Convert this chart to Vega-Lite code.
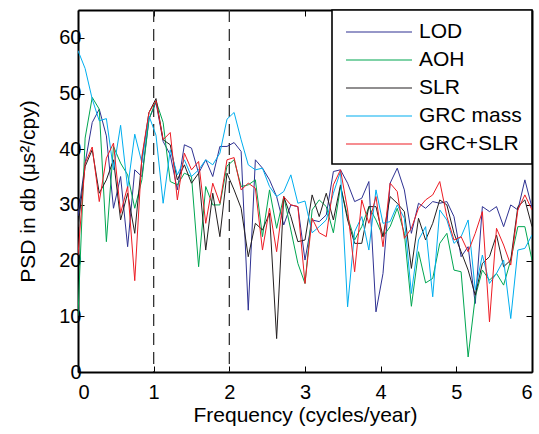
{
  "$schema": "https://vega.github.io/schema/vega-lite/v6.json",
  "width": 454,
  "height": 362,
  "autosize": "none",
  "padding": {"left": 78, "top": 10, "right": 7, "bottom": 62},
  "config": {
    "font": "Liberation Sans",
    "view": {"stroke": null},
    "legend": {"strokeWidth": 1.6},
    "axis": {
      "grid": false,
      "domainColor": "#000000",
      "domainWidth": 2,
      "tickColor": "#000000",
      "tickWidth": 1,
      "tickSize": -6,
      "labelColor": "#000000",
      "labelFontSize": 20,
      "titleColor": "#000000",
      "titleFontSize": 21,
      "titleFontWeight": "normal"
    }
  },
  "datasets": {
    "psd": [
      {"f":0,"v":28,"s":"LOD"},{"f":0.094,"v":37.5,"s":"LOD"},{"f":0.188,"v":44.8,"s":"LOD"},{"f":0.281,"v":47.2,"s":"LOD"},{"f":0.375,"v":42.4,"s":"LOD"},{"f":0.469,"v":29.4,"s":"LOD"},{"f":0.563,"v":35.1,"s":"LOD"},{"f":0.656,"v":22.5,"s":"LOD"},{"f":0.75,"v":36.3,"s":"LOD"},{"f":0.844,"v":35.1,"s":"LOD"},{"f":0.938,"v":45.4,"s":"LOD"},{"f":1.031,"v":48.4,"s":"LOD"},{"f":1.125,"v":41.4,"s":"LOD"},{"f":1.219,"v":39,"s":"LOD"},{"f":1.313,"v":32.7,"s":"LOD"},{"f":1.406,"v":40.8,"s":"LOD"},{"f":1.5,"v":40.2,"s":"LOD"},{"f":1.594,"v":35.7,"s":"LOD"},{"f":1.688,"v":38.1,"s":"LOD"},{"f":1.781,"v":35.1,"s":"LOD"},{"f":1.875,"v":40.5,"s":"LOD"},{"f":1.969,"v":40.5,"s":"LOD"},{"f":2.063,"v":41.2,"s":"LOD"},{"f":2.156,"v":39.6,"s":"LOD"},{"f":2.25,"v":11.1,"s":"LOD"},{"f":2.344,"v":38.1,"s":"LOD"},{"f":2.438,"v":36.6,"s":"LOD"},{"f":2.531,"v":34.5,"s":"LOD"},{"f":2.625,"v":31.5,"s":"LOD"},{"f":2.719,"v":26.4,"s":"LOD"},{"f":2.813,"v":30,"s":"LOD"},{"f":2.906,"v":29.7,"s":"LOD"},{"f":3,"v":20.1,"s":"LOD"},{"f":3.094,"v":27.3,"s":"LOD"},{"f":3.188,"v":27,"s":"LOD"},{"f":3.281,"v":28.2,"s":"LOD"},{"f":3.375,"v":36,"s":"LOD"},{"f":3.469,"v":36.3,"s":"LOD"},{"f":3.563,"v":33.9,"s":"LOD"},{"f":3.656,"v":30.6,"s":"LOD"},{"f":3.75,"v":31.2,"s":"LOD"},{"f":3.844,"v":34.2,"s":"LOD"},{"f":3.938,"v":10.8,"s":"LOD"},{"f":4.031,"v":17.7,"s":"LOD"},{"f":4.125,"v":33.9,"s":"LOD"},{"f":4.219,"v":36.6,"s":"LOD"},{"f":4.313,"v":32.7,"s":"LOD"},{"f":4.406,"v":24.9,"s":"LOD"},{"f":4.5,"v":30.3,"s":"LOD"},{"f":4.594,"v":29.4,"s":"LOD"},{"f":4.688,"v":30.6,"s":"LOD"},{"f":4.781,"v":30.3,"s":"LOD"},{"f":4.875,"v":30.6,"s":"LOD"},{"f":4.969,"v":27.9,"s":"LOD"},{"f":5.063,"v":20.7,"s":"LOD"},{"f":5.156,"v":22.5,"s":"LOD"},{"f":5.25,"v":12.3,"s":"LOD"},{"f":5.344,"v":29.7,"s":"LOD"},{"f":5.438,"v":28.8,"s":"LOD"},{"f":5.531,"v":29.7,"s":"LOD"},{"f":5.625,"v":26.1,"s":"LOD"},{"f":5.719,"v":30,"s":"LOD"},{"f":5.813,"v":29.1,"s":"LOD"},{"f":5.906,"v":34.5,"s":"LOD"},{"f":6,"v":29.5,"s":"LOD"},
      {"f":0,"v":10.1,"s":"AOH"},{"f":0.094,"v":42,"s":"AOH"},{"f":0.188,"v":49.3,"s":"AOH"},{"f":0.281,"v":47.2,"s":"AOH"},{"f":0.375,"v":23.4,"s":"AOH"},{"f":0.469,"v":40.5,"s":"AOH"},{"f":0.563,"v":37.5,"s":"AOH"},{"f":0.656,"v":35.4,"s":"AOH"},{"f":0.75,"v":29.4,"s":"AOH"},{"f":0.844,"v":34.5,"s":"AOH"},{"f":0.938,"v":45.4,"s":"AOH"},{"f":1.031,"v":48.7,"s":"AOH"},{"f":1.125,"v":44.8,"s":"AOH"},{"f":1.219,"v":34.2,"s":"AOH"},{"f":1.313,"v":33.6,"s":"AOH"},{"f":1.406,"v":35.7,"s":"AOH"},{"f":1.5,"v":35.1,"s":"AOH"},{"f":1.594,"v":18.9,"s":"AOH"},{"f":1.688,"v":33.3,"s":"AOH"},{"f":1.781,"v":30,"s":"AOH"},{"f":1.875,"v":30,"s":"AOH"},{"f":1.969,"v":37,"s":"AOH"},{"f":2.063,"v":38.1,"s":"AOH"},{"f":2.156,"v":33.3,"s":"AOH"},{"f":2.25,"v":33.6,"s":"AOH"},{"f":2.344,"v":34.5,"s":"AOH"},{"f":2.438,"v":24.3,"s":"AOH"},{"f":2.531,"v":32.7,"s":"AOH"},{"f":2.625,"v":25.8,"s":"AOH"},{"f":2.719,"v":31.5,"s":"AOH"},{"f":2.813,"v":25.5,"s":"AOH"},{"f":2.906,"v":19.5,"s":"AOH"},{"f":3,"v":15.9,"s":"AOH"},{"f":3.094,"v":29.1,"s":"AOH"},{"f":3.188,"v":30.9,"s":"AOH"},{"f":3.281,"v":29.7,"s":"AOH"},{"f":3.375,"v":25,"s":"AOH"},{"f":3.469,"v":33.3,"s":"AOH"},{"f":3.563,"v":27.9,"s":"AOH"},{"f":3.656,"v":23.7,"s":"AOH"},{"f":3.75,"v":26.1,"s":"AOH"},{"f":3.844,"v":29.7,"s":"AOH"},{"f":3.938,"v":27.3,"s":"AOH"},{"f":4.031,"v":24.3,"s":"AOH"},{"f":4.125,"v":26.1,"s":"AOH"},{"f":4.219,"v":29.4,"s":"AOH"},{"f":4.313,"v":24.9,"s":"AOH"},{"f":4.406,"v":11.8,"s":"AOH"},{"f":4.5,"v":21.6,"s":"AOH"},{"f":4.594,"v":16,"s":"AOH"},{"f":4.688,"v":16.8,"s":"AOH"},{"f":4.781,"v":23.1,"s":"AOH"},{"f":4.875,"v":24.9,"s":"AOH"},{"f":4.969,"v":18.3,"s":"AOH"},{"f":5.063,"v":18,"s":"AOH"},{"f":5.156,"v":2.7,"s":"AOH"},{"f":5.25,"v":13.5,"s":"AOH"},{"f":5.344,"v":18.3,"s":"AOH"},{"f":5.438,"v":16.5,"s":"AOH"},{"f":5.531,"v":17.7,"s":"AOH"},{"f":5.625,"v":15.6,"s":"AOH"},{"f":5.719,"v":20.1,"s":"AOH"},{"f":5.813,"v":26.1,"s":"AOH"},{"f":5.906,"v":26.1,"s":"AOH"},{"f":6,"v":20.1,"s":"AOH"},
      {"f":0,"v":26,"s":"SLR"},{"f":0.094,"v":36.9,"s":"SLR"},{"f":0.188,"v":39.9,"s":"SLR"},{"f":0.281,"v":32.1,"s":"SLR"},{"f":0.375,"v":34.5,"s":"SLR"},{"f":0.469,"v":38.1,"s":"SLR"},{"f":0.563,"v":27.3,"s":"SLR"},{"f":0.656,"v":32.1,"s":"SLR"},{"f":0.75,"v":24.9,"s":"SLR"},{"f":0.844,"v":38.1,"s":"SLR"},{"f":0.938,"v":46.6,"s":"SLR"},{"f":1.031,"v":49.1,"s":"SLR"},{"f":1.125,"v":41.7,"s":"SLR"},{"f":1.219,"v":40.8,"s":"SLR"},{"f":1.313,"v":34.5,"s":"SLR"},{"f":1.406,"v":37.2,"s":"SLR"},{"f":1.5,"v":33.9,"s":"SLR"},{"f":1.594,"v":35.7,"s":"SLR"},{"f":1.688,"v":21.9,"s":"SLR"},{"f":1.781,"v":32.1,"s":"SLR"},{"f":1.875,"v":24.3,"s":"SLR"},{"f":1.969,"v":35.7,"s":"SLR"},{"f":2.063,"v":32.7,"s":"SLR"},{"f":2.156,"v":29.4,"s":"SLR"},{"f":2.25,"v":20.7,"s":"SLR"},{"f":2.344,"v":26.7,"s":"SLR"},{"f":2.438,"v":25.5,"s":"SLR"},{"f":2.531,"v":28.5,"s":"SLR"},{"f":2.625,"v":6,"s":"SLR"},{"f":2.719,"v":31.5,"s":"SLR"},{"f":2.813,"v":27.9,"s":"SLR"},{"f":2.906,"v":23.4,"s":"SLR"},{"f":3,"v":23.7,"s":"SLR"},{"f":3.094,"v":31.8,"s":"SLR"},{"f":3.188,"v":27.9,"s":"SLR"},{"f":3.281,"v":32.1,"s":"SLR"},{"f":3.375,"v":27.3,"s":"SLR"},{"f":3.469,"v":33.6,"s":"SLR"},{"f":3.563,"v":27.3,"s":"SLR"},{"f":3.656,"v":23.1,"s":"SLR"},{"f":3.75,"v":23.1,"s":"SLR"},{"f":3.844,"v":29.7,"s":"SLR"},{"f":3.938,"v":29.7,"s":"SLR"},{"f":4.031,"v":24.3,"s":"SLR"},{"f":4.125,"v":31.5,"s":"SLR"},{"f":4.219,"v":30.3,"s":"SLR"},{"f":4.313,"v":28.8,"s":"SLR"},{"f":4.406,"v":18.6,"s":"SLR"},{"f":4.5,"v":27.6,"s":"SLR"},{"f":4.594,"v":23.7,"s":"SLR"},{"f":4.688,"v":26.7,"s":"SLR"},{"f":4.781,"v":30.9,"s":"SLR"},{"f":4.875,"v":30,"s":"SLR"},{"f":4.969,"v":24.9,"s":"SLR"},{"f":5.063,"v":21.6,"s":"SLR"},{"f":5.156,"v":18.3,"s":"SLR"},{"f":5.25,"v":13.8,"s":"SLR"},{"f":5.344,"v":19.5,"s":"SLR"},{"f":5.438,"v":20.7,"s":"SLR"},{"f":5.531,"v":24.6,"s":"SLR"},{"f":5.625,"v":18.9,"s":"SLR"},{"f":5.719,"v":20.1,"s":"SLR"},{"f":5.813,"v":29.7,"s":"SLR"},{"f":5.906,"v":30.9,"s":"SLR"},{"f":6,"v":26.1,"s":"SLR"},
      {"f":0,"v":57.7,"s":"GRC mass"},{"f":0.094,"v":54.5,"s":"GRC mass"},{"f":0.188,"v":49,"s":"GRC mass"},{"f":0.281,"v":45.1,"s":"GRC mass"},{"f":0.375,"v":45.5,"s":"GRC mass"},{"f":0.469,"v":36.3,"s":"GRC mass"},{"f":0.563,"v":44.3,"s":"GRC mass"},{"f":0.656,"v":33,"s":"GRC mass"},{"f":0.75,"v":42.7,"s":"GRC mass"},{"f":0.844,"v":37.6,"s":"GRC mass"},{"f":0.938,"v":46,"s":"GRC mass"},{"f":1.031,"v":42.5,"s":"GRC mass"},{"f":1.125,"v":30.3,"s":"GRC mass"},{"f":1.219,"v":39.9,"s":"GRC mass"},{"f":1.313,"v":35.4,"s":"GRC mass"},{"f":1.406,"v":38.1,"s":"GRC mass"},{"f":1.5,"v":35.1,"s":"GRC mass"},{"f":1.594,"v":36.3,"s":"GRC mass"},{"f":1.688,"v":38.1,"s":"GRC mass"},{"f":1.781,"v":37.2,"s":"GRC mass"},{"f":1.875,"v":39.3,"s":"GRC mass"},{"f":1.969,"v":45.4,"s":"GRC mass"},{"f":2.063,"v":46.6,"s":"GRC mass"},{"f":2.156,"v":41.7,"s":"GRC mass"},{"f":2.25,"v":37.2,"s":"GRC mass"},{"f":2.344,"v":36.3,"s":"GRC mass"},{"f":2.438,"v":36.6,"s":"GRC mass"},{"f":2.531,"v":33.3,"s":"GRC mass"},{"f":2.625,"v":31.5,"s":"GRC mass"},{"f":2.719,"v":32.4,"s":"GRC mass"},{"f":2.813,"v":35.4,"s":"GRC mass"},{"f":2.906,"v":30.3,"s":"GRC mass"},{"f":3,"v":30.7,"s":"GRC mass"},{"f":3.094,"v":25,"s":"GRC mass"},{"f":3.188,"v":26.1,"s":"GRC mass"},{"f":3.281,"v":27.3,"s":"GRC mass"},{"f":3.375,"v":32.1,"s":"GRC mass"},{"f":3.469,"v":36,"s":"GRC mass"},{"f":3.563,"v":11.7,"s":"GRC mass"},{"f":3.656,"v":25.2,"s":"GRC mass"},{"f":3.75,"v":27.9,"s":"GRC mass"},{"f":3.844,"v":21.9,"s":"GRC mass"},{"f":3.938,"v":32.7,"s":"GRC mass"},{"f":4.031,"v":26.7,"s":"GRC mass"},{"f":4.125,"v":27,"s":"GRC mass"},{"f":4.219,"v":30,"s":"GRC mass"},{"f":4.313,"v":27.6,"s":"GRC mass"},{"f":4.406,"v":14.1,"s":"GRC mass"},{"f":4.5,"v":23.7,"s":"GRC mass"},{"f":4.594,"v":26.1,"s":"GRC mass"},{"f":4.688,"v":13.5,"s":"GRC mass"},{"f":4.781,"v":29.1,"s":"GRC mass"},{"f":4.875,"v":27.3,"s":"GRC mass"},{"f":4.969,"v":23.1,"s":"GRC mass"},{"f":5.063,"v":24.3,"s":"GRC mass"},{"f":5.156,"v":27.3,"s":"GRC mass"},{"f":5.25,"v":14.7,"s":"GRC mass"},{"f":5.344,"v":21,"s":"GRC mass"},{"f":5.438,"v":15.9,"s":"GRC mass"},{"f":5.531,"v":17.7,"s":"GRC mass"},{"f":5.625,"v":20.1,"s":"GRC mass"},{"f":5.719,"v":9.6,"s":"GRC mass"},{"f":5.813,"v":21.9,"s":"GRC mass"},{"f":5.906,"v":22.2,"s":"GRC mass"},{"f":6,"v":24.6,"s":"GRC mass"},
      {"f":0,"v":21,"s":"GRC+SLR"},{"f":0.094,"v":37.5,"s":"GRC+SLR"},{"f":0.188,"v":40.4,"s":"GRC+SLR"},{"f":0.281,"v":30.6,"s":"GRC+SLR"},{"f":0.375,"v":38.4,"s":"GRC+SLR"},{"f":0.469,"v":41.1,"s":"GRC+SLR"},{"f":0.563,"v":28.5,"s":"GRC+SLR"},{"f":0.656,"v":33.3,"s":"GRC+SLR"},{"f":0.75,"v":16.4,"s":"GRC+SLR"},{"f":0.844,"v":38.7,"s":"GRC+SLR"},{"f":0.938,"v":46.6,"s":"GRC+SLR"},{"f":1.031,"v":48.7,"s":"GRC+SLR"},{"f":1.125,"v":41.7,"s":"GRC+SLR"},{"f":1.219,"v":43,"s":"GRC+SLR"},{"f":1.313,"v":30.9,"s":"GRC+SLR"},{"f":1.406,"v":39.3,"s":"GRC+SLR"},{"f":1.5,"v":36.3,"s":"GRC+SLR"},{"f":1.594,"v":37.8,"s":"GRC+SLR"},{"f":1.688,"v":26.7,"s":"GRC+SLR"},{"f":1.781,"v":33.9,"s":"GRC+SLR"},{"f":1.875,"v":30.3,"s":"GRC+SLR"},{"f":1.969,"v":38.1,"s":"GRC+SLR"},{"f":2.063,"v":38.5,"s":"GRC+SLR"},{"f":2.156,"v":32.7,"s":"GRC+SLR"},{"f":2.25,"v":33.9,"s":"GRC+SLR"},{"f":2.344,"v":33,"s":"GRC+SLR"},{"f":2.438,"v":21.9,"s":"GRC+SLR"},{"f":2.531,"v":29.4,"s":"GRC+SLR"},{"f":2.625,"v":21.6,"s":"GRC+SLR"},{"f":2.719,"v":31.5,"s":"GRC+SLR"},{"f":2.813,"v":30,"s":"GRC+SLR"},{"f":2.906,"v":29.7,"s":"GRC+SLR"},{"f":3,"v":15.9,"s":"GRC+SLR"},{"f":3.094,"v":27.6,"s":"GRC+SLR"},{"f":3.188,"v":25,"s":"GRC+SLR"},{"f":3.281,"v":24.3,"s":"GRC+SLR"},{"f":3.375,"v":33.6,"s":"GRC+SLR"},{"f":3.469,"v":36.3,"s":"GRC+SLR"},{"f":3.563,"v":29.1,"s":"GRC+SLR"},{"f":3.656,"v":18,"s":"GRC+SLR"},{"f":3.75,"v":30.9,"s":"GRC+SLR"},{"f":3.844,"v":26.7,"s":"GRC+SLR"},{"f":3.938,"v":31.5,"s":"GRC+SLR"},{"f":4.031,"v":22.5,"s":"GRC+SLR"},{"f":4.125,"v":33.9,"s":"GRC+SLR"},{"f":4.219,"v":32.4,"s":"GRC+SLR"},{"f":4.313,"v":24,"s":"GRC+SLR"},{"f":4.406,"v":25.8,"s":"GRC+SLR"},{"f":4.5,"v":29.4,"s":"GRC+SLR"},{"f":4.594,"v":30.9,"s":"GRC+SLR"},{"f":4.688,"v":31.8,"s":"GRC+SLR"},{"f":4.781,"v":34.2,"s":"GRC+SLR"},{"f":4.875,"v":27.9,"s":"GRC+SLR"},{"f":4.969,"v":23.7,"s":"GRC+SLR"},{"f":5.063,"v":24.3,"s":"GRC+SLR"},{"f":5.156,"v":21.6,"s":"GRC+SLR"},{"f":5.25,"v":24.9,"s":"GRC+SLR"},{"f":5.344,"v":28.8,"s":"GRC+SLR"},{"f":5.438,"v":9,"s":"GRC+SLR"},{"f":5.531,"v":25.8,"s":"GRC+SLR"},{"f":5.625,"v":22.8,"s":"GRC+SLR"},{"f":5.719,"v":19.2,"s":"GRC+SLR"},{"f":5.813,"v":29.1,"s":"GRC+SLR"},{"f":5.906,"v":31.8,"s":"GRC+SLR"},{"f":6,"v":29.1,"s":"GRC+SLR"}
    ]
  },
  "layer": [
    {
      "data": {"values": [{"f": 1}, {"f": 2}]},
      "mark": {"type": "rule", "color": "#333333", "strokeWidth": 1.3, "strokeDash": [12, 7]},
      "encoding": {
        "x": {
          "field": "f", "type": "quantitative",
          "scale": {"domain": [0, 6], "nice": false, "zero": false},
          "axis": {"orient": "top", "labels": false, "title": null, "values": [0, 1, 2, 3, 4, 5, 6]}
        }
      }
    },
    {
      "data": {"name": "psd"},
      "mark": {"type": "line", "strokeWidth": 1, "clip": true},
      "encoding": {
        "x": {
          "field": "f", "type": "quantitative",
          "scale": {"domain": [0, 6], "nice": false, "zero": false},
          "axis": {"orient": "bottom", "title": "Frequency (cycles/year)", "values": [0, 1, 2, 3, 4, 5, 6], "labelPadding": 16, "titlePadding": 2}
        },
        "y": {
          "field": "v", "type": "quantitative",
          "scale": {"domain": [0, 65], "nice": false, "zero": false},
          "axis": {"orient": "left", "title": "PSD in db (μs²/cpy)", "values": [0, 10, 20, 30, 40, 50, 60], "labelPadding": 3, "titlePadding": 20}
        },
        "color": {
          "field": "s", "type": "nominal",
          "scale": {"domain": ["LOD", "AOH", "SLR", "GRC mass", "GRC+SLR"], "range": ["#2E3192", "#00A651", "#231F20", "#00AEEF", "#ED1C24"]},
          "legend": {
            "title": null, "orient": "top-right", "offset": 0,
            "strokeColor": "#000000", "fillColor": "#ffffff",
            "symbolType": "M-3,0H3", "symbolSize": 484, "symbolStrokeWidth": 1.2,
            "symbolOffset": 25,
            "labelFontSize": 21, "labelColor": "#000000", "labelOffset": 28,
            "rowPadding": 6, "padding": 10
          }
        }
      }
    },
    {
      "data": {"values": [{"v": 0}, {"v": 60}]},
      "mark": {"type": "point", "opacity": 0},
      "encoding": {
        "y": {
          "field": "v", "type": "quantitative",
          "scale": {"domain": [0, 65], "nice": false, "zero": false},
          "axis": {"orient": "right", "labels": false, "title": null, "values": [0, 10, 20, 30, 40, 50, 60]}
        }
      }
    }
  ],
  "resolve": {"axis": {"x": "independent", "y": "independent"}}
}
